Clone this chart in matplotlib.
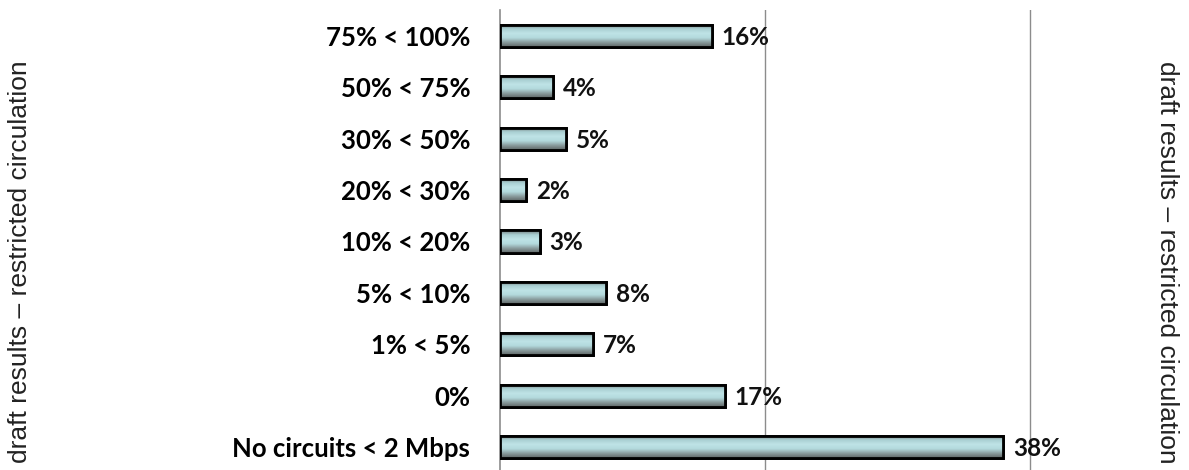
import numpy as np
import matplotlib.pyplot as plt
from matplotlib.colors import LinearSegmentedColormap

# Share of circuits per band (bottom to top)
categories = ['No circuits < 2 Mbps', '0%', '1% < 5%', '5% < 10%', '10% < 20%',
              '20% < 30%', '30% < 50%', '50% < 75%', '75% < 100%']
shares = [38, 17, 7, 8, 3, 2, 5, 4, 16]

side_note = 'draft results \u2013 restricted circulation'

fig = plt.figure(figsize=(11.89, 4.70), dpi=100)
ax = fig.add_axes([500 / 1189, -3 / 470, 600 / 1189, 463 / 470])

# Cylinder-like shading across the bar thickness
shade = LinearSegmentedColormap.from_list(
    'shade', ['#6f7777', '#a9cfd2', '#bfe3e6', '#b3dadd', '#8a9c9e', '#5f6767'])
grad = np.linspace(0, 1, 64).reshape(-1, 1)

bar_h = 0.43
y_pos = np.arange(len(categories))
bars = ax.barh(y_pos, shares, height=bar_h, color='#b8dde0',
               edgecolor='black', linewidth=2, zorder=3)

for rect, val in zip(bars, shares):
    y0 = rect.get_y()
    im = ax.imshow(grad, cmap=shade, aspect='auto', origin='upper',
                   extent=(0, val, y0, y0 + bar_h), zorder=3.5)
    im.set_clip_path(rect)
    # redraw outline above the gradient
    ax.barh(y0 + bar_h / 2, val, height=bar_h, fill=False,
            edgecolor='black', linewidth=2, zorder=4)
    ax.annotate(f'{val}%', xy=(val, y0 + bar_h / 2), xytext=(7, -1),
                textcoords='offset points', va='center', ha='left',
                fontsize=17.5, fontweight='bold', family='Lato',
                color='#111111', zorder=5)

ax.set_xlim(0, 45.3)
ax.set_ylim(-0.5, len(categories) - 0.5)

ax.set_xticks([20, 40])
ax.xaxis.grid(True, color='#8c8c8c', linewidth=1)
ax.set_axisbelow(True)
ax.tick_params(axis='x', length=0, labelbottom=False)

ax.set_yticks(y_pos)
ax.set_yticklabels(categories, fontsize=18.5, fontweight='bold', family='Lato')
ax.tick_params(axis='y', length=0, pad=21.5)

for side in ['top', 'right', 'bottom']:
    ax.spines[side].set_visible(False)
ax.spines['left'].set_color('#8c8c8c')
ax.spines['left'].set_linewidth(1.2)

fig.text(20 / 1189, 1 - 262 / 470, side_note, rotation=90, ha='center', va='center',
         fontsize=19, family='Liberation Sans', color='#222222')
fig.text(1167 / 1189, 1 - 262 / 470, side_note, rotation=-90, ha='center', va='center',
         fontsize=19, family='Liberation Sans', color='#222222')

fig.savefig('out.png', dpi=100)
